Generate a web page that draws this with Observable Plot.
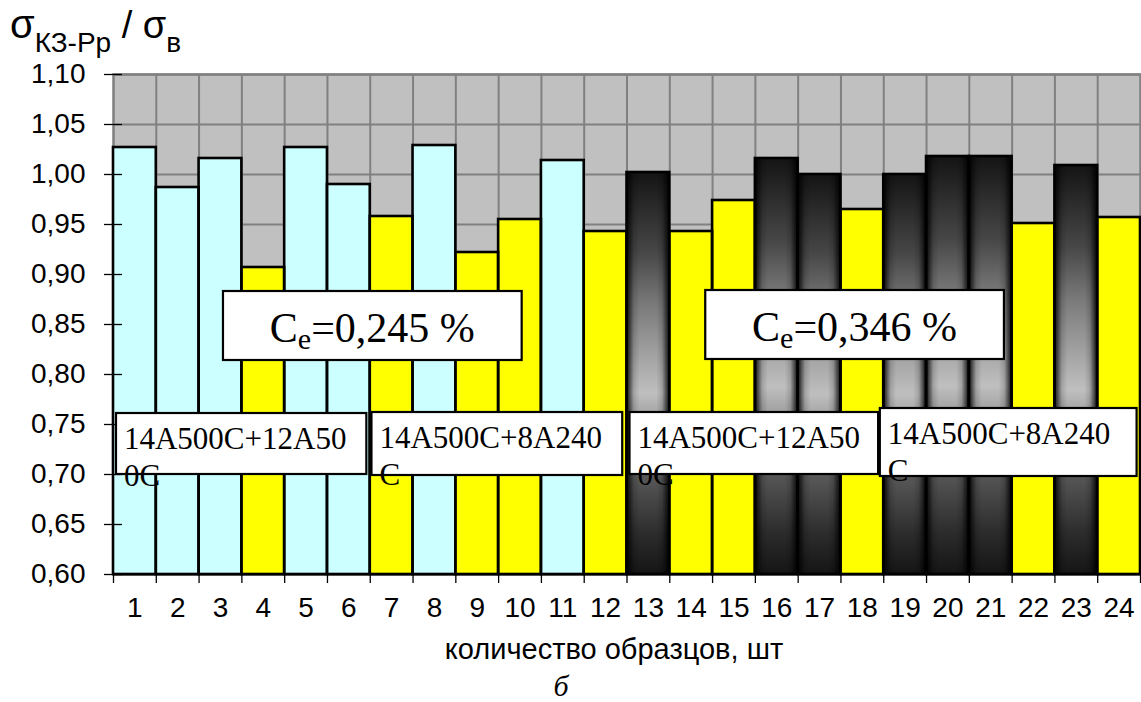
<!DOCTYPE html>
<html>
<head>
<meta charset="utf-8">
<script src="https://cdn.jsdelivr.net/npm/d3@7"></script>
<script src="https://cdn.jsdelivr.net/npm/@observablehq/plot@0.6"></script>
<style>
  html, body { margin: 0; padding: 0; background: #fff; }
  #chart svg { display: block; }
</style>
</head>
<body>
<div id="chart"></div>
<script>
// Sample numbers (x categories)
const samples = [1, 2, 3, 4, 5, 6, 7, 8, 9, 10, 11, 12, 13, 14, 15, 16, 17, 18, 19, 20, 21, 22, 23, 24];
// Strength ratio σКЗ-Рр / σв for each sample
const ratio = [1.027, 0.987, 1.016, 0.907, 1.027, 0.990, 0.958, 1.029, 0.922, 0.955, 1.014, 0.943,
               1.002, 0.943, 0.974, 1.016, 1.000, 0.965, 1.000, 1.018, 1.018, 0.951, 1.009, 0.957];
// Sample type (I / II) for each bar
const sampleType = ["I", "I", "I", "II", "I", "I", "II", "I", "II", "II", "I", "II",
                    "I", "II", "II", "I", "I", "II", "I", "I", "I", "II", "I", "II"];
// Carbon-equivalent group of each bar
const ceGroup = ["0,245", "0,245", "0,245", "0,245", "0,245", "0,245", "0,245", "0,245", "0,245", "0,245", "0,245", "0,245",
                 "0,346", "0,346", "0,346", "0,346", "0,346", "0,346", "0,346", "0,346", "0,346", "0,346", "0,346", "0,346"];
// Y tick values
const yTicks = [0.60, 0.65, 0.70, 0.75, 0.80, 0.85, 0.90, 0.95, 1.00, 1.05, 1.10];
// Annotation texts
const ceLabels = ["0,245", "0,346"];
const comboLabels = ["14A500C+12A50\n0C", "14A500C+8A240\nC", "14A500C+12A50\n0C", "14A500C+8A240\nC"];
const xTitle = "количество образцов, шт";
const figureLetter = "б";

// Annotation box placement in data units
const ceBoxes = [
  {x1: 3.07, x2: 10.05, y1: 0.814, y2: 0.883},
  {x1: 14.34, x2: 21.32, y1: 0.815, y2: 0.884}
];
const comboBoxes = [
  {x1: 0.57, x2: 6.42, y1: 0.700, y2: 0.761},
  {x1: 6.54, x2: 12.40, y1: 0.699, y2: 0.762},
  {x1: 12.57, x2: 18.38, y1: 0.700, y2: 0.762},
  {x1: 18.42, x2: 24.42, y1: 0.698, y2: 0.766}
];

const bars = samples.map((s, i) => ({sample: s, value: ratio[i], type: sampleType[i], ce: ceGroup[i]}));
const bounds = samples.map(s => s - 0.5).concat([samples[samples.length - 1] + 0.5]);
const yMin = yTicks[0];

const barX = {x1: d => d.sample - 0.5, x2: d => d.sample + 0.5, y1: d => yMin, y2: d => d.value};

// Gradients used for the shaded bars
function shadeDefs() {
  const defs = d3.create("svg:defs");
  const v = defs.append("linearGradient").attr("id", "barShadeV")
    .attr("x1", 0).attr("y1", 0).attr("x2", 0).attr("y2", 1);
  [[0, "#141414"], [0.2, "#474747"], [0.33, "#7a7a7a"], [0.55, "#bfbfbf"], [0.75, "#5a5a5a"], [0.9, "#2c2c2c"], [1, "#151515"]]
    .forEach(([o, c]) => v.append("stop").attr("offset", o).attr("stop-color", c));
  const h = defs.append("linearGradient").attr("id", "barShadeH")
    .attr("x1", 0).attr("y1", 0).attr("x2", 1).attr("y2", 0);
  [[0, 0.92], [0.06, 0.65], [0.17, 0.15], [0.3, 0], [0.7, 0], [0.83, 0.15], [0.94, 0.65], [1, 0.92]]
    .forEach(([o, a]) => h.append("stop").attr("offset", o).attr("stop-color", "#000").attr("stop-opacity", a));
  return defs.node();
}

// White annotation boxes with serif text
function annotations(index, scales) {
  const {x, y} = scales;
  const g = d3.create("svg:g").attr("font-family", "'Liberation Serif', 'Times New Roman', serif");
  ceBoxes.forEach((b, i) => {
    const left = x(b.x1), right = x(b.x2), top = y(b.y2), bottom = y(b.y1);
    g.append("rect").attr("x", left).attr("y", top).attr("width", right - left).attr("height", bottom - top)
      .attr("fill", "#fff").attr("stroke", "#000").attr("stroke-width", 2.2);
    const t = g.append("text").attr("x", (left + right) / 2).attr("y", top + 51)
      .attr("text-anchor", "middle").attr("font-size", 42).attr("fill", "#000");
    t.append("tspan").text("C");
    t.append("tspan").attr("font-size", 30).attr("dy", 7).text("e");
    t.append("tspan").attr("dy", -7).text("=" + ceLabels[i] + " %");
  });
  comboBoxes.forEach((b, i) => {
    const left = x(b.x1), right = x(b.x2), top = y(b.y2), bottom = y(b.y1);
    g.append("rect").attr("x", left).attr("y", top).attr("width", right - left).attr("height", bottom - top)
      .attr("fill", "#fff").attr("stroke", "#000").attr("stroke-width", 2.2);
    const t = g.append("text").attr("text-anchor", "start").attr("font-size", 31).attr("fill", "#000");
    comboLabels[i].split("\n").forEach((line, k) => {
      t.append("tspan").attr("x", left + 8).attr("y", top + 36 + k * 37).text(line);
    });
  });
  return g.node();
}

// Y axis title with subscripts
function yTitle() {
  const t = d3.create("svg:text").attr("x", 10).attr("y", 38).attr("text-anchor", "start")
    .attr("font-family", "Arial, 'Liberation Sans', sans-serif").attr("fill", "#000");
  t.append("tspan").attr("font-size", 40).text("σ");
  t.append("tspan").attr("font-size", 28).attr("dy", 14).text("КЗ-Рр");
  t.append("tspan").attr("font-size", 38).attr("dy", -14).text(" / σ");
  t.append("tspan").attr("font-size", 28).attr("dy", 14).text("в");
  return t.node();
}

const chart = Plot.plot({
  width: 1141,
  height: 702,
  marginLeft: 113,
  marginRight: 1,
  marginTop: 74,
  marginBottom: 128,
  style: {fontFamily: "Arial, 'Liberation Sans', sans-serif", fontSize: "28px", background: "#fff", color: "#000", overflow: "visible"},
  x: {domain: [bounds[0], bounds[bounds.length - 1]], ticks: samples, tickSize: 0, tickPadding: 23, tickFormat: d => String(d), label: null},
  y: {domain: [yTicks[0], yTicks[yTicks.length - 1]], ticks: yTicks, tickSize: 0, tickPadding: 28,
      tickFormat: d => d.toFixed(2).replace(".", ","), label: null},
  marks: [
    shadeDefs,
    Plot.frame({fill: "#C0C0C0"}),
    Plot.ruleY(yTicks.slice(1), {stroke: "#808080", strokeWidth: 2}),
    Plot.ruleX(bounds.slice(1, -1), {stroke: "#808080", strokeWidth: 2}),
    Plot.frame({stroke: "#808080", strokeWidth: 2.5}),
    Plot.rect(bars, {...barX, filter: d => d.type === "I" && d.ce === ceGroup[0], fill: "#CCFFFF"}),
    Plot.rect(bars, {...barX, filter: d => d.type === "II", fill: "#FFFF00"}),
    Plot.rect(bars, {...barX, filter: d => d.type === "I" && d.ce === ceGroup[12], fill: "url(#barShadeV)"}),
    Plot.rect(bars, {...barX, filter: d => d.type === "I" && d.ce === ceGroup[12], fill: "url(#barShadeH)"}),
    Plot.rect(bars, {...barX, fill: "none", stroke: "#000", strokeWidth: 2.6}),
    Plot.ruleY([yMin], {stroke: "#000", strokeWidth: 1.5}),
    Plot.ruleY(yTicks, {x1: d => bounds[0], x2: d => bounds[0], insetLeft: -9, insetRight: -9, stroke: "#000", strokeWidth: 1.3}),
    Plot.ruleX(bounds, {y1: d => yMin, y2: d => yMin, insetBottom: -9, stroke: "#000", strokeWidth: 1.3}),
    annotations,
    Plot.text([xTitle], {frameAnchor: "bottom", dx: -13, dy: 75, lineAnchor: "middle", fontSize: 29, fill: "#000"}),
    Plot.text([figureLetter], {frameAnchor: "bottom", dx: -66, dy: 112, lineAnchor: "middle", fontSize: 30,
      fontFamily: "'Liberation Serif', 'Times New Roman', serif", fontStyle: "italic", fill: "#000"}),
    yTitle
  ]
});

document.getElementById("chart").appendChild(chart);
</script>
</body>
</html>
